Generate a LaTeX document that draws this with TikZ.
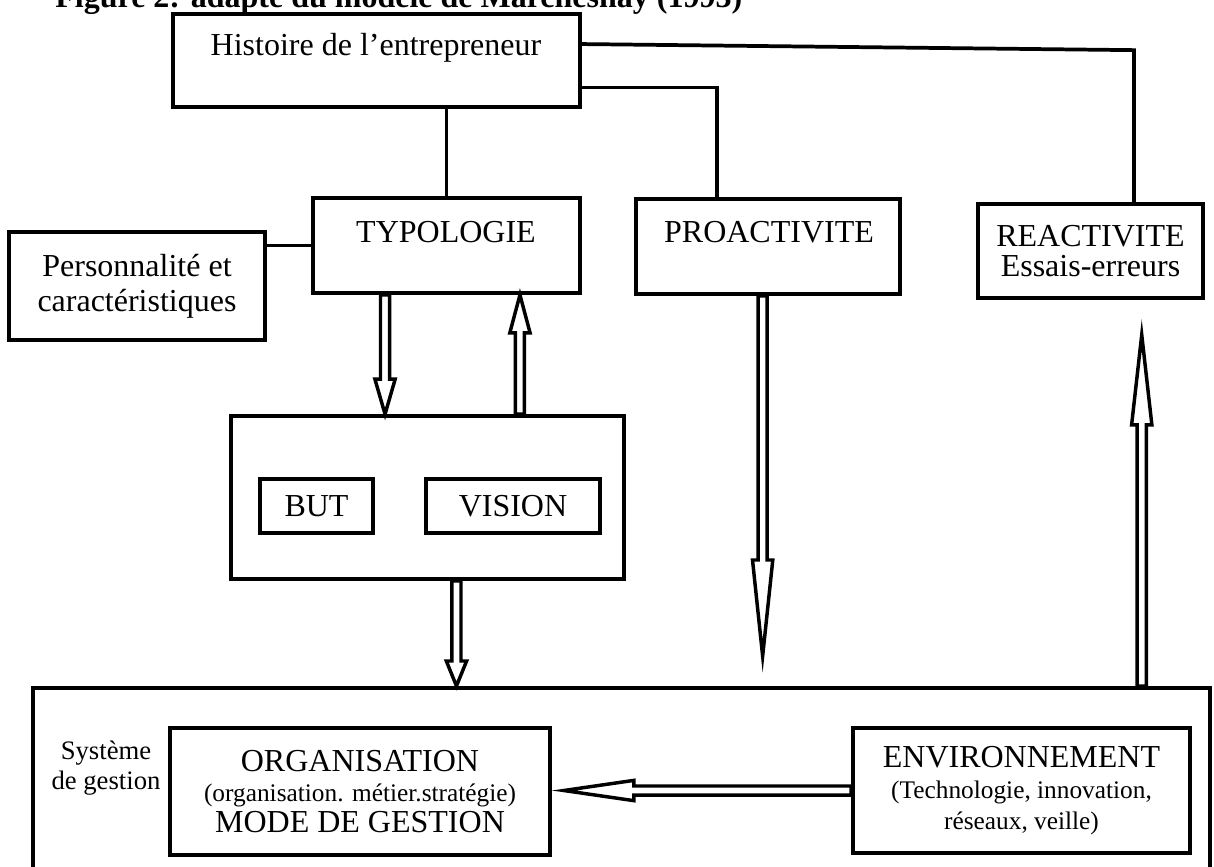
\documentclass[tikz,border=0pt]{standalone}
\usepackage{fontspec}
\setmainfont{Liberation Serif}
\usetikzlibrary{calc,positioning}

\tikzset{
	box/.style={draw, line width=1.4pt, inner sep=0pt, align=center},
	wh/.style 2 args={minimum width={#1*0.375pt}, minimum height={#2*0.375pt}},
	link/.style={line width=1.4pt},
	hollow/.style={draw, fill=white, line width=1.3pt, line join=miter},
	petit/.style={font=\fontsize{9.5}{11.5}\selectfont},
}
\newcommand{\shaftw}{1.7}
\newcommand{\headw}{3.8}
% fleche creuse : [longueur de tete]{depart}{arrivee}
\newcommand{\hollowarrow}[3][35]{%
	\draw[hollow] let \p1=(#2), \p2=(#3),
		\n1={veclen(\x2-\x1,\y2-\y1)}, \n2={(\x2-\x1)/\n1}, \n3={(\y2-\y1)/\n1}, \n4={#1*0.375} in
		({\x1-\shaftw*(\n3)},{\y1+\shaftw*(\n2)})
		-- ({\x2-\n4*(\n2)-\shaftw*(\n3)},{\y2-\n4*(\n3)+\shaftw*(\n2)})
		-- ({\x2-\n4*(\n2)-\headw*(\n3)},{\y2-\n4*(\n3)+\headw*(\n2)})
		-- (\p2)
		-- ({\x2-\n4*(\n2)+\headw*(\n3)},{\y2-\n4*(\n3)-\headw*(\n2)})
		-- ({\x2-\n4*(\n2)+\shaftw*(\n3)},{\y2-\n4*(\n3)-\shaftw*(\n2)})
		-- ({\x1+\shaftw*(\n3)},{\y1-\shaftw*(\n2)}) -- cycle;}

\begin{document}
\begin{tikzpicture}[x=0.375pt, y=-0.375pt, font=\fontsize{12}{13}\selectfont]
	\useasboundingbox (0,0) rectangle (1214,866);
	\clip (0,0) rectangle (1214,866);

	\node[anchor=base west, font=\fontsize{12}{13}\selectfont\bfseries] (titre) at (46,7) {Figure 2: adapté du modèle de Marchesnay (1993)};

	\node[box, wh={407}{93}] (hist) at (376.5,60.5) {};
	\node (histtxt) at (376,48) {Histoire de l’entrepreneur};
	\node[box, wh={267}{95}] (typo) at (446.5,245.5) {};
	\node (typotxt) at (446,232) {TYPOLOGIE};
	\node[box, wh={264}{95}] (proact) at (768,246.5) {};
	\node (proacttxt) at (769,232) {PROACTIVITE};
	\node[box, wh={225}{94}, font=\fontsize{12}{11.25}\selectfont] (react) at (1090.5,251) {REACTIVITE\\Essais-erreurs};
	\node[box, wh={256}{108}] (pers) at (137,286) {Personnalité et\\caractéristiques};

	\node[box, wh={393}{163}] (mid) at (427.5,497.5) {};
	\node[box, wh={113}{54}] (but) at (316.5,506) {BUT};
	\node[box, wh={174}{54}] (vision) at (513,506) {VISION};

	\node[box, wh={1177}{230}, anchor=north west] (sys) at (31,686) {};
	\node[font=\fontsize{10}{11.25}\selectfont, align=center] (systxt) at (106,768) {Système\\de gestion};
	\node[box, wh={380}{127}, font=\fontsize{12}{11.5}\selectfont] (org) at (360,791.5)
		{ORGANISATION\\{\fontsize{9.5}{11.5}\selectfont (organisation. métier.stratégie)}\\MODE DE GESTION};
	\node[box, wh={337}{125}, font=\fontsize{12}{11.5}\selectfont] (env) at (1021.5,790.5)
		{ENVIRONNEMENT\\{\fontsize{9.5}{11.5}\selectfont (Technologie, innovation,}\\{\fontsize{9.5}{11.5}\selectfont réseaux, veille)}};

	\coordinate (r0) at ($(react.north west)!.69!(react.north east)$);
	\draw[link] ($(hist.north east)!.33!(hist.south east)$) -- ($(r0 |- hist.north)+(0,38)$) -- (r0);
	\draw[link] ($(hist.north east)!.78!(hist.south east)$) -| ($(proact.north west)!.31!(proact.north east)$);
	\draw[link] (hist.south -| typo.north) -- (typo.north);
	\draw[link] (pers.east |- typo.west) -- (typo.west);

	\coordinate (t1) at ($(typo.south west)!.273!(typo.south east)$);
	\coordinate (t2) at ($(mid.north west)!.733!(mid.north east)$);
	\coordinate (m1) at ($(mid.south west)!.573!(mid.south east)$);
	\coordinate (p1) at ($(proact.south west)!.48!(proact.south east)$);
	\coordinate (ptip) at ($(p1 |- sys.north)+(0,-30)$);
	\coordinate (r1) at ($(react.south west)!.724!(react.south east)$);
	\coordinate (rtip) at ($(r1)+(0,35)$);

	\hollowarrow[35]{t1}{t1 |- mid.north}
	\hollowarrow[38]{t2}{t2 |- typo.south}
	\hollowarrow[25]{m1}{m1 |- sys.north}
	\hollowarrow[96]{p1}{ptip}
	\hollowarrow[90]{r1 |- sys.north}{rtip}
	\hollowarrow[70]{env.west}{$(org.east |- env.west)+(12,0)$}
\end{tikzpicture}
\end{document}
